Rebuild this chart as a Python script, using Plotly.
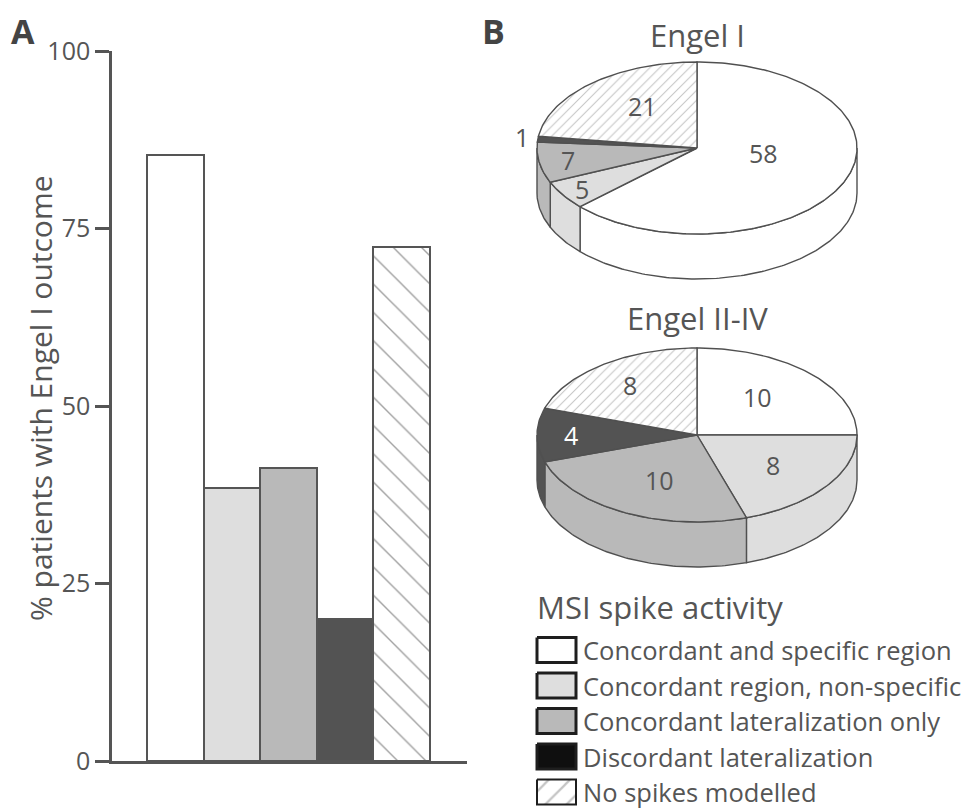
import numpy as np
import plotly.graph_objects as go

# ---------------- data ----------------
categories = [
    "Concordant and specific region",
    "Concordant region, non-specific",
    "Concordant lateralization only",
    "Discordant lateralization",
    "No spikes modelled",
]
engel1_pct = [85.3, 38.5, 41.2, 20.0, 72.4]      # % patients with Engel I outcome
engel1_counts = [58, 5, 7, 1, 21]                 # Engel I patients per category
engel2_4_counts = [10, 8, 10, 4, 8]               # Engel II-IV patients per category
y_tick_vals = [0, 25, 50, 75, 100]
pie_titles = ["Engel I", "Engel II-IV"]
legend_title = "MSI spike activity"

# ---------------- style ----------------
W, H = 977, 808
FONT = "Open Sans"
INK = "#555555"
bar_colors = ["#ffffff", "#dedede", "#b9b9b9", "#535353", "#ffffff"]
bar_patterns = ["", "", "", "", "\\"]
legend_colors = ["#ffffff", "#dedede", "#b9b9b9", "#0f0f0f", "#ffffff"]
hatched = [False, False, False, False, True]
dark_slice = [False, False, False, True, False]

# panel A frame (pixels)
AX_L, AX_R, AX_B, AX_T = 112, 467, 761, 51
BAR_PX, FIRST_BAR_CX = 56.5, 175.5

# panel B pie geometry (pixels)
pie_geom = [
    dict(cx=697, cy=148, rx=160, ry=86, depth=45, title_y=35),
    dict(cx=697, cy=435, rx=160, ry=87, depth=45, title_y=318),
]
label_radius = [[0.42, 0.86, 0.82, 1.10, 0.59], [0.58, 0.59, 0.57, 0.79, 0.71]]
label_shift = [[16, 0, 0, -1, -6], [4, 0, 3, 0, 0]]

# legend layout (pixels)
LEG_X, LEG_TITLE_Y, LEG_ROW0, LEG_DY, BOX_W, BOX_H = 537, 607, 650, 35.5, 39, 25

fig = go.Figure()

# ---------------- panel A: bars ----------------
fig.add_trace(go.Bar(
    x=categories, y=engel1_pct, width=1,
    marker=dict(
        color=bar_colors,
        line=dict(color=INK, width=2),
        pattern=dict(shape=bar_patterns, fgcolor="#5a5a5a", bgcolor="#ffffff",
                     size=20, solidity=0.07),
    ),
    hoverinfo="skip", showlegend=False,
))

x_lo = -(FIRST_BAR_CX - AX_L) / BAR_PX
x_hi = x_lo + (AX_R - AX_L) / BAR_PX


def poly(xs, ys, color, hatch, line_color="#505050", line_width=1.4, pattern_size=7):
    kw = {}
    if hatch:
        kw["fillpattern"] = dict(shape="/", fgcolor="#8a8a8a", bgcolor="#ffffff",
                                 size=pattern_size, solidity=0.15)
    fig.add_trace(go.Scatter(
        x=xs, y=ys, mode="lines", fill="toself", fillcolor=color,
        line=dict(color=line_color, width=line_width),
        xaxis="x2", yaxis="y2", hoverinfo="skip", showlegend=False, **kw,
    ))


def arc(g, a0, a1, dy=0.0):
    n = max(2, int(abs(a1 - a0)) + 2)
    t = np.radians(np.linspace(a0, a1, n))
    return g["cx"] + g["rx"] * np.cos(t), g["cy"] - g["ry"] * np.sin(t) + dy


annotations = []

# ---------------- panel B: 3-D pies ----------------
for p, (g, counts) in enumerate(zip(pie_geom, [engel1_counts, engel2_4_counts])):
    total = sum(counts)
    bounds = 90 - np.concatenate([[0], np.cumsum(counts)]) * 360.0 / total

    # visible side walls (front half of the disc)
    for i in range(len(counts)):
        start, end = bounds[i], bounds[i + 1]
        lo, hi = max(end, -180.0), min(start, 0.0)
        if hi > lo:
            xt, yt = arc(g, lo, hi)
            xb, yb = arc(g, hi, lo, dy=g["depth"])
            poly(np.r_[xt, xb, xt[0]], np.r_[yt, yb, yt[0]], bar_colors[i], hatched[i])

    # top faces
    for i in range(len(counts)):
        xa, ya = arc(g, bounds[i], bounds[i + 1])
        poly(np.r_[g["cx"], xa, g["cx"]], np.r_[g["cy"], ya, g["cy"]],
             bar_colors[i], hatched[i])

    # slice counts
    for i, v in enumerate(counts):
        mid = np.radians((bounds[i] + bounds[i + 1]) / 2 + label_shift[p][i])
        r = label_radius[p][i]
        annotations.append(dict(
            x=g["cx"] + r * g["rx"] * np.cos(mid), y=g["cy"] - r * g["ry"] * np.sin(mid),
            xref="x2", yref="y2", text=str(v), showarrow=False,
            xanchor="center", yanchor="middle",
            font=dict(family=FONT, size=25,
                      color="#ffffff" if (dark_slice[i] and r < 1) else INK),
        ))

    annotations.append(dict(
        x=g["cx"], y=g["title_y"], xref="x2", yref="y2", text=pie_titles[p],
        showarrow=False, xanchor="center", yanchor="middle",
        font=dict(family=FONT, size=31, color=INK),
    ))

# ---------------- legend ----------------
annotations.append(dict(
    x=LEG_X - 2, y=LEG_TITLE_Y, xref="x2", yref="y2", text=legend_title,
    showarrow=False, xanchor="left", yanchor="middle",
    font=dict(family=FONT, size=31, color=INK),
))
for i, name in enumerate(categories):
    yc = LEG_ROW0 + i * LEG_DY
    x0, x1 = LEG_X, LEG_X + BOX_W
    y0, y1 = yc - BOX_H / 2, yc + BOX_H / 2
    poly([x0, x1, x1, x0, x0], [y0, y0, y1, y1, y0], legend_colors[i], hatched[i],
         line_color="#1e1e1e", line_width=2 if hatched[i] else 3, pattern_size=15)
    annotations.append(dict(
        x=x1 + 5, y=yc, xref="x2", yref="y2", text=name, showarrow=False,
        xanchor="left", yanchor="middle",
        font=dict(family=FONT, size=25.5, color=INK),
    ))

# ---------------- panel letters and y title ----------------
annotations += [
    dict(x=23 / W, y=1 - 31 / H, xref="paper", yref="paper", text="<b>A</b>",
         showarrow=False, xanchor="center", yanchor="middle",
         font=dict(family=FONT, size=34, color="#444444")),
    dict(x=494 / W, y=1 - 31 / H, xref="paper", yref="paper", text="<b>B</b>",
         showarrow=False, xanchor="center", yanchor="middle",
         font=dict(family=FONT, size=34, color="#444444")),
    dict(x=40 / W, y=1 - 398 / H, xref="paper", yref="paper",
         text="% patients with Engel I outcome", textangle=-90, showarrow=False,
         xanchor="center", yanchor="middle",
         font=dict(family=FONT, size=30, color=INK)),
]

fig.update_layout(
    width=W, height=H, autosize=False,
    margin=dict(l=0, r=0, t=0, b=0, pad=0, autoexpand=False),
    paper_bgcolor="#ffffff", plot_bgcolor="rgba(0,0,0,0)",
    bargap=0,
    xaxis=dict(domain=[AX_L / W, AX_R / W], range=[x_lo, x_hi],
               showline=True, linecolor=INK, linewidth=2.5,
               showticklabels=False, ticks="", showgrid=False, zeroline=False,
               fixedrange=True, automargin=False),
    yaxis=dict(domain=[(H - AX_B) / H, (H - AX_T) / H], range=[0, 100],
               tickvals=y_tick_vals, showline=True, linecolor=INK, linewidth=2.5,
               ticks="outside", ticklen=14, tickwidth=2.5, tickcolor=INK,
               tickfont=dict(family=FONT, size=25, color=INK),
               showgrid=False, zeroline=False, fixedrange=True, automargin=False),
    xaxis2=dict(domain=[480 / W, 1], range=[480, W], visible=False, fixedrange=True),
    yaxis2=dict(domain=[0, 1], range=[H, 0], visible=False, fixedrange=True),
    annotations=annotations,
    showlegend=False,
)

fig.write_html("out.html")
